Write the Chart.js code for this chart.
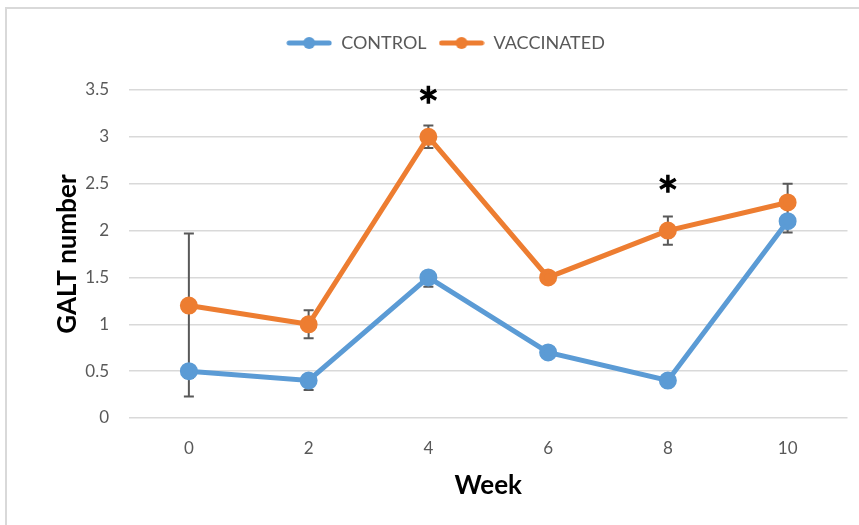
<!DOCTYPE html>
<html>
<head>
<meta charset="utf-8">
<script src="https://cdn.jsdelivr.net/npm/chart.js@4/dist/chart.umd.min.js"></script>
<style>
  body { margin: 0; background: #fff; }
  #wrap { position: relative; width: 859px; height: 525px; }
  #frame { position: absolute; left: 5px; top: 7px; right: 0; bottom: 0;
           border-left: 2px solid #d9d9d9; border-top: 2px solid #d9d9d9; }
  canvas { position: absolute; left: 0; top: 0; }
</style>
</head>
<body>
<div id="wrap">
  <div id="frame"></div>
  <canvas id="chart" width="859" height="525"></canvas>
</div>
<script>
const weeks = ['0', '2', '4', '6', '8', '10'];
const control = [0.5, 0.4, 1.5, 0.7, 0.4, 2.1];
const vaccinated = [1.2, 1.0, 3.0, 1.5, 2.0, 2.3];
const controlErrMinus = [0.27, 0.1, 0.1, 0, 0.07, 0.12];
const controlErrPlus = [0, 0, 0, 0, 0, 0];
const vaccErr = [0.77, 0.15, 0.12, 0, 0.15, 0.2];
const yTicks = [0, 0.5, 1, 1.5, 2, 2.5, 3, 3.5];
const starIndex = [2, 4];
const starValue = [3.45, 2.5];

const BLUE = '#5b9bd5';
const ORANGE = '#ed7d31';
const FONT = 'Lato';

function legendIcon(color) {
    const c = document.createElement('canvas');
    c.width = 46; c.height = 14;
    const g = c.getContext('2d');
    g.strokeStyle = color;
    g.lineWidth = 5;
    g.lineCap = 'round';
    g.beginPath(); g.moveTo(3, 7); g.lineTo(43, 7); g.stroke();
    g.fillStyle = color;
    g.beginPath(); g.arc(23, 7, 6, 0, Math.PI * 2); g.fill();
    return c;
}

// keep the legend block tall so the plot starts lower, like the original
const legendHeight = {
    id: 'legendHeight',
    beforeLayout(chart) {
        const lg = chart.legend;
        if (!lg || lg._fitWrapped) return;
        const fit = lg.fit.bind(lg);
        lg.fit = function () { fit(); this.height = 68; };
        lg._fitWrapped = true;
    }
};

const errorBars = {
    id: 'errorBars',
    beforeDatasetsDraw(chart) {
        const ctx = chart.ctx;
        const x = chart.scales.x, y = chart.scales.y;
        ctx.save();
        ctx.strokeStyle = '#595959';
        ctx.lineWidth = 2;
        chart.data.datasets.forEach(ds => {
            ds.data.forEach((v, i) => {
                const px = x.getPixelForValue(i);
                const hi = y.getPixelForValue(v + ds.errPlus[i]);
                const lo = y.getPixelForValue(v - ds.errMinus[i]);
                if (hi === lo) return;
                ctx.beginPath();
                ctx.moveTo(px, hi); ctx.lineTo(px, lo);
                if (ds.errPlus[i] > 0) { ctx.moveTo(px - 5, hi); ctx.lineTo(px + 5, hi); }
                if (ds.errMinus[i] > 0) { ctx.moveTo(px - 5, lo); ctx.lineTo(px + 5, lo); }
                ctx.stroke();
            });
        });
        ctx.restore();
    },
    afterDatasetsDraw(chart) {
        // significance asterisks
        const ctx = chart.ctx;
        const x = chart.scales.x, y = chart.scales.y;
        ctx.save();
        ctx.strokeStyle = '#000';
        ctx.lineWidth = 3.5;
        starIndex.forEach((idx, k) => {
            const cx = x.getPixelForValue(idx);
            const cy = y.getPixelForValue(starValue[k]);
            const r = 9;
            ctx.beginPath();
            for (let a = 0; a < 3; a++) {
                const ang = Math.PI / 2 + a * Math.PI / 3;
                ctx.moveTo(cx + r * Math.cos(ang), cy - r * Math.sin(ang));
                ctx.lineTo(cx - r * Math.cos(ang), cy + r * Math.sin(ang));
            }
            ctx.stroke();
        });
        ctx.restore();
    }
};

new Chart(document.getElementById('chart'), {
    type: 'line',
    data: {
        labels: weeks,
        datasets: [{
            label: 'CONTROL',
            data: control,
            errPlus: controlErrPlus,
            errMinus: controlErrMinus,
            borderColor: BLUE,
            backgroundColor: BLUE,
            borderWidth: 5,
            pointRadius: 6.5,
            pointHoverRadius: 6.5,
            tension: 0
        }, {
            label: 'VACCINATED',
            data: vaccinated,
            errPlus: vaccErr,
            errMinus: vaccErr,
            borderColor: ORANGE,
            backgroundColor: ORANGE,
            borderWidth: 5,
            pointRadius: 6.5,
            pointHoverRadius: 6.5,
            tension: 0
        }]
    },
    options: {
        responsive: false,
        animation: false,
        layout: { padding: { left: 42, right: 10, top: 22, bottom: 20 } },
        plugins: {
            tooltip: { enabled: false },
            legend: {
                position: 'top',
                labels: {
                    usePointStyle: true,
                    pointStyleWidth: 46,
                    padding: 12,
                    color: '#595959',
                    font: { family: FONT, size: 18 },
                    generateLabels(chart) {
                        return chart.data.datasets.map((ds, i) => ({
                            text: ds.label,
                            pointStyle: legendIcon(ds.borderColor),
                            fillStyle: ds.borderColor,
                            strokeStyle: ds.borderColor,
                            lineWidth: 0,
                            fontColor: '#595959',
                            datasetIndex: i
                        }));
                    }
                }
            }
        },
        scales: {
            x: {
                offset: true,
                grid: { display: false },
                border: { display: false },
                ticks: { color: '#595959', font: { family: FONT, size: 17 }, padding: 12 },
                title: { display: true, text: 'Week', color: '#000',
                         font: { family: FONT, size: 26, weight: 'bold' } },
                afterFit(s) { s.height = 87; }
            },
            y: {
                min: 0,
                max: 3.5,
                afterBuildTicks(s) { s.ticks = yTicks.map(v => ({ value: v })); },
                grid: { color: '#d9d9d9', lineWidth: 1.5, drawTicks: false },
                border: { display: false },
                ticks: { color: '#595959', font: { family: FONT, size: 17 }, padding: 20,
                         callback: v => String(v) },
                title: { display: true, text: 'GALT number', color: '#000',
                         padding: { top: 10, bottom: 4 },
                         font: { family: FONT, size: 26, weight: 'bold' } },
                afterFit(s) { s.width = 87; }
            }
        }
    },
    plugins: [legendHeight, errorBars]
});
</script>
</body>
</html>
